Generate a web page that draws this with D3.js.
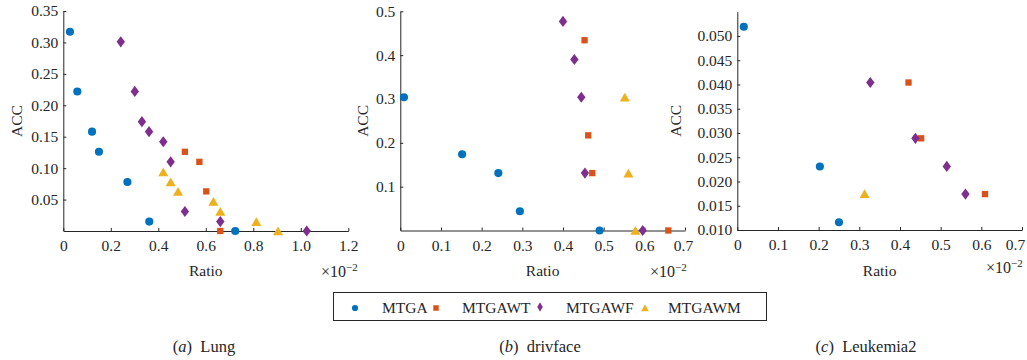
<!DOCTYPE html>
<html>
<head>
<meta charset="utf-8">
<script src="https://cdn.jsdelivr.net/npm/d3@7"></script>
<style>
  body { margin: 0; background: #fff; }
  svg { display: block; }
</style>
</head>
<body>
<script>
const width = 1027;
const height = 360;
const serif = "'Liberation Serif', 'Times New Roman', Times, 'DejaVu Serif', serif";

const seriesNames = ["MTGA", "MTGAWT", "MTGAWF", "MTGAWM"];
const colors = ["#0072BD", "#D95319", "#7E2F8E", "#EDB120"];

// (a) Lung  [ratio (x10^-2), ACC]
const lungMTGA = [[0.028, 0.317], [0.059, 0.222], [0.121, 0.158], [0.150, 0.126], [0.270, 0.078], [0.362, 0.015], [0.724, 0]];
const lungMTGAWT = [[0.512, 0.126], [0.573, 0.110], [0.602, 0.063], [0.661, 0]];
const lungMTGAWF = [[0.242, 0.301], [0.301, 0.222], [0.331, 0.174], [0.361, 0.158], [0.421, 0.142], [0.452, 0.110], [0.512, 0.031], [0.661, 0.015], [1.025, 0]];
const lungMTGAWM = [[0.421, 0.094], [0.452, 0.078], [0.483, 0.063], [0.632, 0.047], [0.661, 0.031], [0.813, 0.015], [0.904, 0]];

// (b) drivface
const drivMTGA = [[0.009, 0.304], [0.152, 0.174], [0.241, 0.131], [0.294, 0.044], [0.490, 0]];
const drivMTGAWT = [[0.453, 0.434], [0.462, 0.217], [0.472, 0.131], [0.659, 0]];
const drivMTGAWF = [[0.400, 0.477], [0.428, 0.390], [0.445, 0.304], [0.454, 0.131], [0.596, 0]];
const drivMTGAWM = [[0.552, 0.304], [0.561, 0.131], [0.578, 0]];

// (c) Leukemia2
const leukMTGA = [[0.016, 0.0519], [0.203, 0.0231], [0.250, 0.0116]];
const leukMTGAWT = [[0.421, 0.0404], [0.452, 0.0289], [0.609, 0.0174]];
const leukMTGAWF = [[0.327, 0.0404], [0.438, 0.0289], [0.515, 0.0231], [0.561, 0.0174]];
const leukMTGAWM = [[0.313, 0.0175]];

const lungXTicks = [0, 0.2, 0.4, 0.6, 0.8, 1.0, 1.2];
const lungYTicks = [0.05, 0.10, 0.15, 0.20, 0.25, 0.30, 0.35];
const drivXTicks = [0, 0.1, 0.2, 0.3, 0.4, 0.5, 0.6, 0.7];
const drivYTicks = [0.1, 0.2, 0.3, 0.4, 0.5];
const leukXTicks = [0, 0.1, 0.2, 0.3, 0.4, 0.5, 0.6, 0.7];
const leukYTicks = [0.010, 0.015, 0.020, 0.025, 0.030, 0.035, 0.040, 0.045, 0.050];

const xFmt = d => d === 0 ? "0" : d3.format(".1f")(d);

const panels = [
  { series: [lungMTGA, lungMTGAWT, lungMTGAWF, lungMTGAWM], xr: [63.3, 348.3], yr: [231, 11],
    xd: [0, 1.2], yd: [0, 0.35], xt: lungXTicks, yt: lungYTicks, yf: d3.format(".2f"),
    letter: "a", name: "Lung", capX: 204, accX: 17, sciX: 321, sciY: 277, lastDx: 0 },
  { series: [drivMTGA, drivMTGAWT, drivMTGAWF, drivMTGAWM], xr: [400.3, 685], yr: [230.5, 11.3],
    xd: [0, 0.7], yd: [0, 0.5], xt: drivXTicks, yt: drivYTicks, yf: d3.format(".1f"),
    letter: "b", name: "drivface", capX: 540, accX: 363, sciX: 650, sciY: 277, lastDx: -2 },
  { series: [leukMTGA, leukMTGAWT, leukMTGAWF, leukMTGAWM], xr: [737.3, 1022], yr: [230, 11.7],
    xd: [0, 0.7], yd: [0.01, 0.055], xt: leukXTicks, yt: leukYTicks, yf: d3.format(".3f"),
    letter: "c", name: "Leukemia2", capX: 866, accX: 676, sciX: 986, sciY: 273, lastDx: -7 }
];

const symTypes = [d3.symbolCircle, d3.symbolSquare, d3.symbolDiamond, d3.symbolTriangle];
const symbols = [
  d3.symbol().type(d3.symbolCircle).size(52)(),
  d3.symbol().type(d3.symbolSquare).size(40)(),
  d3.symbol().type(d3.symbolDiamond).size(36)(),
  d3.symbol().type(d3.symbolTriangle).size(44)()
];
const symOffset = [0, 0, 0, 1.4];
const symScaleX = [1, 1, 1.3, 1];

const svg = d3.select("body").append("svg")
  .attr("width", width)
  .attr("height", height)
  .attr("font-family", serif);

panels.forEach(function (p) {
  const x = d3.scaleLinear().domain(p.xd).range(p.xr);
  const y = d3.scaleLinear().domain(p.yd).range(p.yr);
  const g = svg.append("g");

  const gx = g.append("g")
    .attr("transform", `translate(0,${p.yr[0]})`)
    .call(d3.axisBottom(x).tickValues(p.xt).tickFormat(xFmt).tickSize(-3).tickSizeOuter(0).tickPadding(9));
  const gy = g.append("g")
    .attr("transform", `translate(${p.xr[0]},0)`)
    .call(d3.axisLeft(y).tickValues(p.yt).tickFormat(p.yf).tickSize(-3).tickSizeOuter(0).tickPadding(5));

  [gx, gy].forEach(a => {
    a.attr("font-family", serif).attr("font-size", 15.5);
    a.select(".domain").attr("stroke", "#262626").attr("stroke-width", 1);
    a.selectAll(".tick line").attr("stroke", "#262626");
    a.selectAll(".tick text").attr("fill", "#262626");
  });
  // keep the last x label inside the page
  gx.selectAll(".tick text").filter(d => d === p.xt[p.xt.length - 1]).attr("dx", p.lastDx);

  p.series.forEach(function (data, i) {
    g.selectAll(null)
      .data(data)
      .enter()
      .append("path")
      .attr("d", symbols[i])
      .attr("transform", d => `translate(${x(d[0])},${y(d[1]) + symOffset[i]}) scale(${symScaleX[i]},1)`)
      .attr("fill", colors[i]);
  });

  const cx = (p.xr[0] + p.xr[1]) / 2;
  g.append("text")
    .attr("x", cx)
    .attr("y", 276)
    .attr("text-anchor", "middle")
    .attr("font-size", 15.5)
    .attr("fill", "#262626")
    .text("Ratio");

  g.append("text")
    .attr("transform", `translate(${p.accX},${(p.yr[0] + p.yr[1]) / 2}) rotate(-90)`)
    .attr("text-anchor", "middle")
    .attr("dy", "0.35em")
    .attr("font-size", 15.5)
    .attr("fill", "#262626")
    .text("ACC");

  const sci = g.append("text")
    .attr("x", p.sciX)
    .attr("y", p.sciY)
    .attr("font-size", 16)
    .attr("fill", "#262626");
  sci.append("tspan").text("\u00d710");
  sci.append("tspan").attr("dy", -6).attr("font-size", 11).text("\u22122");

  const cap = g.append("text")
    .attr("x", p.capX)
    .attr("y", 352)
    .attr("text-anchor", "middle")
    .attr("font-size", 16.5)
    .attr("fill", "#262626");
  cap.append("tspan").text("(");
  cap.append("tspan").attr("font-style", "italic").text(p.letter);
  cap.append("tspan").text(")\u2002" + p.name);
});

// legend
const legend = svg.append("g");
legend.append("rect")
  .attr("x", 333.5).attr("y", 292.5)
  .attr("width", 433).attr("height", 28)
  .attr("fill", "#fff").attr("stroke", "#262626").attr("stroke-width", 1);

const legendSymX = [355, 436, 540, 645];
const legendTextX = [382, 462, 566, 668];
seriesNames.forEach(function (name, i) {
  legend.append("path")
    .attr("d", d3.symbol().type(symTypes[i]).size([30, 30, 26, 26][i])())
    .attr("transform", `translate(${legendSymX[i]},${308 + (i === 3 ? 1 : 0) - (i === 2 ? 1 : 0)})`)
    .attr("fill", colors[i]);
  legend.append("text")
    .attr("x", legendTextX[i])
    .attr("y", 313)
    .attr("font-size", 15.5)
    .attr("fill", "#262626")
    .text(name);
});
</script>
</body>
</html>
